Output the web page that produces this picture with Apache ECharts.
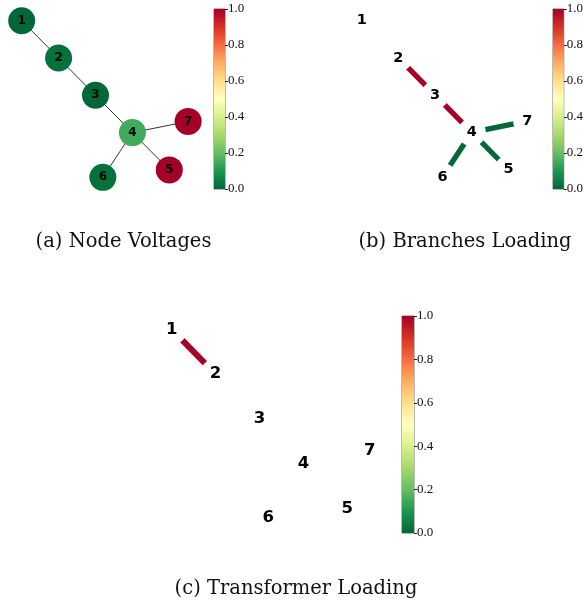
<!DOCTYPE html>
<html><head><meta charset="utf-8">
<script src="https://cdn.jsdelivr.net/npm/echarts@6/dist/echarts.min.js"></script>
<style>html,body{margin:0;padding:0;background:#fff}#c{width:586px;height:604px}</style>
</head><body><div id="c"></div>
<script>
// ---- data ----
const nodeNames = ['1','2','3','4','5','6','7'];
const nodeX = [0, 1, 2, 3, 4, 2.2, 4.51];
const nodeY = [0, 1, 2, 3, 4, 4.2, 2.7];
const nodeVoltage = [0.0, 0.02, 0.0, 0.15, 1.0, 0.02, 1.0];
const allEdgeFrom = ['1','2','3','4','4','4'];
const allEdgeTo   = ['2','3','4','5','6','7'];
const branchFrom = ['2','3','4','4','4'];
const branchTo   = ['3','4','5','6','7'];
const branchLoading = [1.0, 1.0, 0.0, 0.0, 0.0];
const trafoFrom = ['1'];
const trafoTo   = ['2'];
const trafoLoading = [1.0];
const colorbarTicks = [0.0, 0.2, 0.4, 0.6, 0.8, 1.0];
const captions = ['(a) Node Voltages', '(b) Branches Loading', '(c) Transformer Loading'];

// ---- colormap RdYlGn_r ----
const cmap = ['#006837','#1a9850','#66bd63','#a6d96a','#d9ef8b','#ffffbf','#fee08b','#fdae61','#f46d43','#d73027','#a50026'];
function hex2rgb(h){return [parseInt(h.substr(1,2),16),parseInt(h.substr(3,2),16),parseInt(h.substr(5,2),16)];}
function colorOf(v){
  v=Math.max(0,Math.min(1,v));
  const p=v*(cmap.length-1), i=Math.min(Math.floor(p),cmap.length-2), t=p-i;
  const a=hex2rgb(cmap[i]), b=hex2rgb(cmap[i+1]);
  return 'rgb('+a.map((x,k)=>Math.round(x+(b[k]-x)*t)).join(',')+')';
}

const chart = echarts.init(document.getElementById('c'), null, {renderer:'canvas'});

// panel layout: origin pixel of node "1" and unit sizes
const panels = [
  {x0:21.7, y0:20.7, ux:36.9, uy:37.3},
  {x0:361.7, y0:20.7, ux:36.7, uy:37.2},
  {x0:171.7, y0:329.3, ux:43.9, uy:44.9}
];
const cbars = [
  {left:214, top:9, width:11, height:180},
  {left:553, top:9, width:11, height:180},
  {left:402, top:316, width:12, height:217}
];
const captionPos = [[123.5, 242], [465, 242], [296, 589]];

const grids=[], xAxes=[], yAxes=[], series=[];
panels.forEach((p,i)=>{
  grids.push({left:p.x0-0.5*p.ux, top:p.y0-0.5*p.uy, width:5.5*p.ux, height:5.5*p.uy, show:false});
  xAxes.push({type:'value', gridIndex:i, min:-0.5, max:5, show:false});
  yAxes.push({type:'value', gridIndex:i, min:-0.5, max:5, inverse:true, show:false});
});
cbars.forEach((c,i)=>{
  grids.push({left:c.left, top:c.top, width:c.width, height:c.height, show:true, borderColor:'#777', borderWidth:1, backgroundColor:'transparent'});
  xAxes.push({type:'category', gridIndex:3+i, data:['cb'], show:false});
  yAxes.push({type:'value', gridIndex:3+i, position:'right', min:colorbarTicks[0], max:colorbarTicks[colorbarTicks.length-1], interval:0.2,
    axisLine:{show:false}, splitLine:{show:false},
    axisTick:{show:true, length:3, lineStyle:{color:'#222', width:1}},
    axisLabel:{show:true, margin:3, color:'#111', fontFamily:'Liberation Serif', fontSize:13, formatter:v=>v.toFixed(1)}});
  const stops = cmap.map((col,k)=>({offset:1-k/(cmap.length-1), color:col}));
  series.push({type:'bar', xAxisIndex:3+i, yAxisIndex:3+i, data:[colorbarTicks[colorbarTicks.length-1]], barWidth:'100%', silent:true,
    itemStyle:{color:new echarts.graphic.LinearGradient(0,0,0,1,stops.slice().reverse())}});
});

function nodesData(colorFn, size){
  return nodeNames.map((n,k)=>({name:n, value:[nodeX[k], nodeY[k]], symbolSize:size, itemStyle:{color:colorFn(k)}}));
}
// (a) node voltages
series.push({type:'graph', coordinateSystem:'cartesian2d', xAxisIndex:0, yAxisIndex:0, layout:'none', z:5,
  data: nodesData(k=>colorOf(nodeVoltage[k]), 27),
  links: allEdgeFrom.map((s,k)=>({source:s, target:allEdgeTo[k]})),
  lineStyle:{color:'#333', width:1, opacity:1},
  label:{show:true, position:'inside', formatter:'{b}', color:'#000', fontFamily:'DejaVu Sans', fontWeight:'bold', fontSize:12}
});
// (b) branches loading
series.push({type:'graph', coordinateSystem:'cartesian2d', xAxisIndex:1, yAxisIndex:1, layout:'none', z:5,
  data: nodesData(k=>'#ffffff', 28),
  links: branchFrom.map((s,k)=>({source:s, target:branchTo[k], lineStyle:{color:colorOf(branchLoading[k])}})),
  lineStyle:{width:5.3, opacity:1, cap:'butt'},
  label:{show:true, position:'inside', formatter:'{b}', color:'#000', fontFamily:'DejaVu Sans', fontWeight:'bold', fontSize:14.5}
});
// (c) transformer loading
series.push({type:'graph', coordinateSystem:'cartesian2d', xAxisIndex:2, yAxisIndex:2, layout:'none', z:5,
  data: nodesData(k=>'#ffffff', 31),
  links: trafoFrom.map((s,k)=>({source:s, target:trafoTo[k], lineStyle:{color:colorOf(trafoLoading[k])}})),
  lineStyle:{width:6, opacity:1, cap:'butt'},
  label:{show:true, position:'inside', formatter:'{b}', color:'#000', fontFamily:'DejaVu Sans', fontWeight:'bold', fontSize:16.5}
});

chart.setOption({
  animation:false,
  backgroundColor:'#fff',
  grid:grids, xAxis:xAxes, yAxis:yAxes, series:series,
  graphic: captions.map((t,i)=>({type:'text', x:captionPos[i][0], y:captionPos[i][1], silent:true,
    style:{text:t, textAlign:'center', textVerticalAlign:'middle', font:'19.5px "DejaVu Serif"', fill:'#111'}}))
});
</script></body></html>
